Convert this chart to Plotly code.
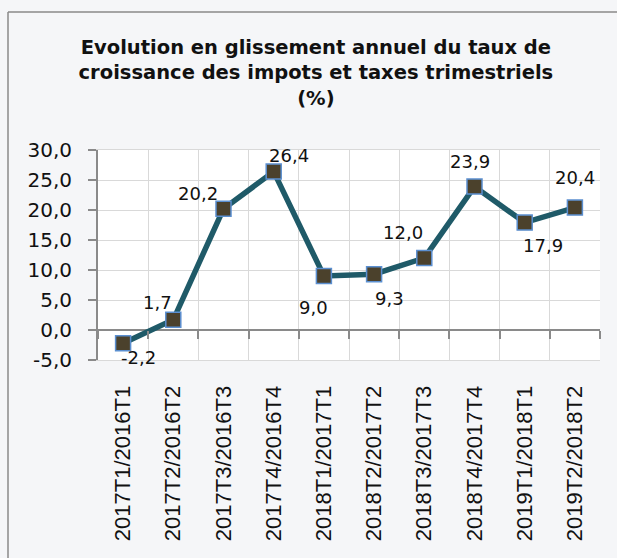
import plotly.graph_objects as go

periodes = ["2017T1/2016T1", "2017T2/2016T2", "2017T3/2016T3", "2017T4/2016T4",
            "2018T1/2017T1", "2018T2/2017T2", "2018T3/2017T3", "2018T4/2017T4",
            "2019T1/2018T1", "2019T2/2018T2"]
taux = [-2.2, 1.7, 20.2, 26.4, 9.0, 9.3, 12.0, 23.9, 17.9, 20.4]
y_ticks = [-5, 0, 5, 10, 15, 20, 25, 30]

# label offsets in pixels (dx, dy) relative to each marker
label_dx = [15, -16, -26, 15, -10, 15, -21, -5, 18, 0]
label_dy = [14, -17, -15, -16, 31, 24, -26, -25, 23, -30]

y_min, y_max = -5, 30

fig = go.Figure()
fig.add_trace(go.Scatter(
    x=periodes, y=taux, mode="lines+markers",
    line=dict(color="#1f5a68", width=5.5),
    marker=dict(symbol="square", size=15, color="#4b412c",
                line=dict(color="#5b8fd0", width=1.5)),
    showlegend=False, cliponaxis=False,
))

for p, v, dx, dy in zip(periodes, taux, label_dx, label_dy):
    fig.add_annotation(x=p, y=v, text=f"{v:.1f}".replace(".", ","), showarrow=False,
                       xshift=dx, yshift=-dy,
                       font=dict(family="DejaVu Sans", size=18, color="#111"))

fig.update_layout(
    width=617, height=558,
    margin=dict(l=98, r=17, t=150, b=198),
    paper_bgcolor="#f5f6f8", plot_bgcolor="#ffffff",
    title=dict(text="<b>Evolution en glissement annuel du taux de<br>croissance des impots et taxes trimestriels<br>(%)</b>",
               font=dict(family="DejaVu Sans", size=19.5, color="#111"),
               x=0.512, xref="container", xanchor="center",
               y=1 - 54 / 558, yref="container", yanchor="top"),
    xaxis=dict(type="category", tickson="boundaries", showgrid=True, gridcolor="#d9d9d9",
               showline=True, linecolor="#d9d9d9", mirror=True, ticks="",
               tickangle=-90, ticklabelstandoff=16, automargin=False,
               tickfont=dict(family="Liberation Sans", size=22, color="#111"),
               range=[-0.5, len(periodes) - 0.5]),
    xaxis2=dict(overlaying="x", anchor="free", side="bottom",
                position=(0 - y_min) / (y_max - y_min),
                range=[-0.5, len(periodes) - 0.5],
                tickmode="array", tickvals=[i - 0.5 for i in range(len(periodes) + 1)],
                ticks="outside", ticklen=8, tickcolor="#8a8a8a", tickwidth=2,
                showticklabels=False, showgrid=False, showline=False, zeroline=False),
    yaxis=dict(range=[y_min, y_max], tickmode="array", tickvals=y_ticks,
               ticktext=[f"{t:.1f}".replace(".", ",") for t in y_ticks],
               showgrid=True, gridcolor="#d9d9d9", automargin=False,
               showline=True, linecolor="#8a8a8a", linewidth=2,
               ticks="outside", ticklen=8, tickcolor="#8a8a8a", tickwidth=2,
               zeroline=True, zerolinecolor="#8a8a8a", zerolinewidth=2,
               ticklabelstandoff=12,
               tickfont=dict(family="DejaVu Sans", size=20, color="#111")),
)

# invisible helper so xaxis2 is drawn
fig.add_trace(go.Scatter(x=[None], y=[None], xaxis="x2", showlegend=False, hoverinfo="skip"))

# outer frame: only the left and top edges fall inside the picture
bx0, by1 = (8 - 98) / 502, 1 + (150 - 12) / 210
fig.add_shape(type="line", xref="paper", yref="paper", x0=bx0, x1=bx0, y0=-1.5, y1=by1,
              line=dict(color="#8a8a8a", width=1.5), layer="below")
fig.add_shape(type="line", xref="paper", yref="paper", x0=bx0, x1=1.5, y0=by1, y1=by1,
              line=dict(color="#8a8a8a", width=1.5), layer="below")

fig.write_html("out.html", config={"displayModeBar": False},
               post_script="document.body.style.margin='0';"
                           "document.body.style.overflow='hidden';"
                           "document.body.style.background='#f5f6f8';")
